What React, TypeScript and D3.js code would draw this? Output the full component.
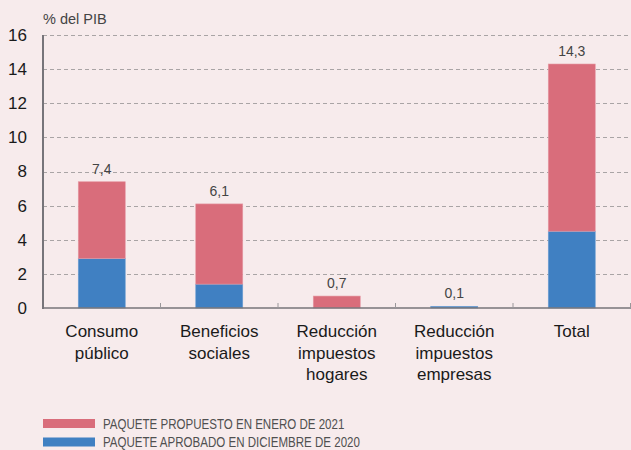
import React, { useEffect, useRef } from 'react';
import * as d3 from 'd3';

const categories = [
  ['Consumo', 'público'],
  ['Beneficios', 'sociales'],
  ['Reducción', 'impuestos', 'hogares'],
  ['Reducción', 'impuestos', 'empresas'],
  ['Total'],
];
const aprobado = [2.9, 1.4, 0, 0.1, 4.5];
const propuesto = [4.5, 4.7, 0.7, 0, 9.8];
const totals = ['7,4', '6,1', '0,7', '0,1', '14,3'];
const yTicks = [0, 2, 4, 6, 8, 10, 12, 14, 16];
const legendLabels = ['PAQUETE PROPUESTO EN ENERO DE 2021', 'PAQUETE APROBADO EN DICIEMBRE DE 2020'];

const RED = '#d96d7b';
const BLUE = '#4080c2';
const FONT = 'Liberation Sans, Arial, sans-serif';

const App = () => {
  const ref = useRef<SVGSVGElement>(null);

  useEffect(() => {
    const svg = d3.select(ref.current);
    svg.selectAll('*').remove();

    const W = 631, H = 450;
    const margin = { top: 35, left: 43, right: 0, bottom: 142 };

    svg.append('rect').attr('width', W).attr('height', H).attr('fill', '#f7ebec');

    const x = d3.scaleBand<number>()
      .domain(categories.map((_, i) => i))
      .range([margin.left, 630.5])
      .paddingInner(0.6)
      .paddingOuter(0.3);
    const y = d3.scaleLinear().domain([0, 16]).range([H - margin.bottom, margin.top]);

    // grid
    svg.append('g').selectAll('line')
      .data(yTicks.filter(d => d > 0))
      .join('line')
      .attr('x1', margin.left).attr('x2', W)
      .attr('y1', d => Math.round(y(d)) + 0.5).attr('y2', d => Math.round(y(d)) + 0.5)
      .attr('stroke', '#a9a4a5').attr('stroke-width', 1).attr('stroke-dasharray', '4,3');

    // tick labels
    svg.append('g').selectAll('text')
      .data(yTicks)
      .join('text')
      .attr('x', 27).attr('y', d => y(d))
      .attr('dy', '0.35em')
      .attr('text-anchor', 'end')
      .attr('font-family', FONT)
      .attr('font-size', 17).attr('fill', '#1a1a1a')
      .text(d => d);

    svg.append('text')
      .attr('x', 43).attr('y', 24)
      .attr('font-family', FONT)
      .attr('font-size', 14.5).attr('fill', '#444')
      .text('% del PIB');

    // bars
    const bars = svg.append('g');
    categories.forEach((_, i) => {
      const x0 = x(i)!;
      const bw = x.bandwidth();
      if (aprobado[i] > 0) {
        bars.append('rect')
          .attr('x', x0).attr('width', bw)
          .attr('y', y(aprobado[i])).attr('height', y(0) - y(aprobado[i]))
          .attr('fill', BLUE).attr('stroke', '#6fa0d4').attr('stroke-width', 0.6);
      }
      const top = aprobado[i] + propuesto[i];
      if (propuesto[i] > 0) {
        bars.append('rect')
          .attr('x', x0).attr('width', bw)
          .attr('y', y(top)).attr('height', y(aprobado[i]) - y(top))
          .attr('fill', RED).attr('stroke', '#e69aa4').attr('stroke-width', 0.6);
      }
      svg.append('text')
        .attr('x', x0 + bw / 2).attr('y', y(top) - 8)
        .attr('text-anchor', 'middle')
        .attr('font-family', FONT)
        .attr('font-size', 14).attr('fill', '#444')
        .text(totals[i]);
    });

    // axes
    const y0 = Math.round(y(0));
    svg.append('line')
      .attr('x1', margin.left).attr('x2', margin.left)
      .attr('y1', margin.top).attr('y2', y0 + 1)
      .attr('stroke', '#77757a').attr('stroke-width', 2);
    svg.append('line')
      .attr('x1', margin.left - 1).attr('x2', W)
      .attr('y1', y0).attr('y2', y0)
      .attr('stroke', '#77757a').attr('stroke-width', 1.5);
    const step = x.step();
    const boundaries = categories.map((_, i) => x(i)! - (step - x.bandwidth()) / 2 + step);
    svg.append('g').selectAll('line')
      .data(boundaries)
      .join('line')
      .attr('x1', d => d).attr('x2', d => d)
      .attr('y1', y0 - 5).attr('y2', y0)
      .attr('stroke', '#9a979a').attr('stroke-width', 1);

    // category labels
    categories.forEach((lines, i) => {
      const cx = x(i)! + x.bandwidth() / 2;
      const t = svg.append('text')
        .attr('text-anchor', 'middle')
        .attr('font-family', FONT)
        .attr('font-size', 17).attr('fill', '#1a1a1a');
      lines.forEach((l, j) => {
        t.append('tspan').attr('x', cx).attr('y', 337 + j * 21.5).text(l);
      });
    });

    // legend (condensed look)
    const legendColors = [RED, BLUE];
    legendLabels.forEach((lab, i) => {
      const base = 429 + i * 18;
      svg.append('rect')
        .attr('x', 43).attr('y', 419 + i * 18.5).attr('width', 52).attr('height', 9)
        .attr('fill', legendColors[i]);
      svg.append('text')
        .attr('transform', `translate(103,${base}) scale(0.78,1)`)
        .attr('font-family', FONT)
        .attr('font-size', 14.8).attr('fill', '#505050')
        .text(lab);
    });
  }, []);

  return (
    <div style={{ position: 'fixed', left: 0, top: 0 }}>
      <svg ref={ref} width={631} height={450} style={{ display: 'block' }} />
    </div>
  );
};

export default App;
